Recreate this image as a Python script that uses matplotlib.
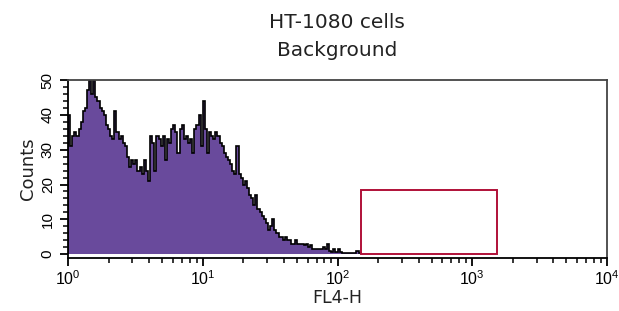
"""FL4-H background histogram for HT-1080 cells."""

import numpy as np
import matplotlib
matplotlib.use("Agg")
import matplotlib.pyplot as plt
from matplotlib.patches import Rectangle
from matplotlib.ticker import FixedLocator, MultipleLocator

plt.rcParams["font.family"] = ["DejaVu Sans"]
plt.rcParams["mathtext.default"] = "regular"

# 64 channels per decade, starting at 10^0
channels_per_decade = 64
counts = [
    40, 31, 34, 35, 34, 36, 38, 41, 42, 47,
    50, 46, 50, 45, 44, 42, 41, 40, 37, 36,
    34, 33, 41, 35, 33, 34, 32, 31, 28, 25,
    27, 26, 27, 24, 25, 23, 27, 24, 21, 34,
    32, 24, 34, 33, 31, 34, 27, 33, 32, 36,
    37, 35, 29, 36, 37, 33, 34, 32, 33, 29,
    36, 37, 40, 31, 44, 36, 29, 35, 34, 33,
    35, 34, 32, 31, 29, 28, 27, 26, 24, 23,
    31, 23, 22, 20, 21, 19, 17, 16, 14, 17,
    13, 12, 11, 10, 9, 7, 8, 10, 7, 6,
    5, 5, 4, 5, 4, 4, 3, 3, 4, 3,
    3, 3, 2.5, 3, 2, 2.5, 1.5, 1.5, 1.5, 1.5,
    1.5, 2, 1.5, 3, 1, 0.6, 1.5, 0.6, 1.5, 0.5,
    0.3, 0.3, 0.3, 0.3, 0.3, 0.3, 0.3, 1, 0.3,
]

# analysis gate drawn on the plot
gate_x = [150, 1520]
gate_y = [0, 18.3]

x_ticks = [1, 10, 100, 1000, 10000]
x_tick_labels = ["$10^0$", "$10^1$", "$10^2$", "$10^3$", "$10^4$"]
y_ticks = [0, 10, 20, 30, 40, 50]

edges = 10 ** (np.arange(len(counts) + 1) / channels_per_decade)

fig = plt.figure(figsize=(6.19, 3.11), dpi=100)
ax = fig.add_axes([68 / 619, 1 - 258 / 311, (607 - 68) / 619, (258 - 80) / 311])

ax.stairs(counts, edges, fill=True, color="#694a9c", baseline=0)
ax.stairs(counts, edges, color="black", linewidth=1.2, baseline=0)

ax.add_patch(Rectangle((gate_x[0], gate_y[0]), gate_x[1] - gate_x[0],
                       gate_y[1] - gate_y[0], fill=False,
                       edgecolor="#b01038", linewidth=1.4))

ax.set_xscale("log")
ax.set_xlim(1, 10000)
ax.set_ylim(-1.1, 50)

ax.xaxis.set_major_locator(FixedLocator(x_ticks))
ax.set_xticklabels(x_tick_labels, fontsize=11.5, family="Liberation Sans")
ax.yaxis.set_major_locator(FixedLocator(y_ticks))
ax.yaxis.set_minor_locator(MultipleLocator(2))
ax.set_yticklabels([str(v) for v in y_ticks], rotation=90, va="center",
                   fontsize=11, family="Liberation Sans")

ax.tick_params(which="major", direction="out", length=6, width=1.3)
ax.tick_params(axis="x", which="major", pad=2)
ax.tick_params(which="minor", direction="out", length=3.5, width=1.1)
for s in ax.spines.values():
    s.set_linewidth(1.3)
ax.spines["top"].set_color("#444444")
ax.spines["right"].set_color("#444444")

ax.set_xlabel("FL4-H", fontsize=12.5, labelpad=1, color="#222222")
ax.set_ylabel("Counts", fontsize=13, labelpad=3, color="#222222")

fig.text(0.545, 1 - 22 / 311, "HT-1080 cells", ha="center", va="center",
         fontsize=14.5, color="#222222")
fig.text(0.545, 1 - 50 / 311, "Background", ha="center", va="center",
         fontsize=14.5, color="#222222")

fig.savefig("out.png", dpi=100)
